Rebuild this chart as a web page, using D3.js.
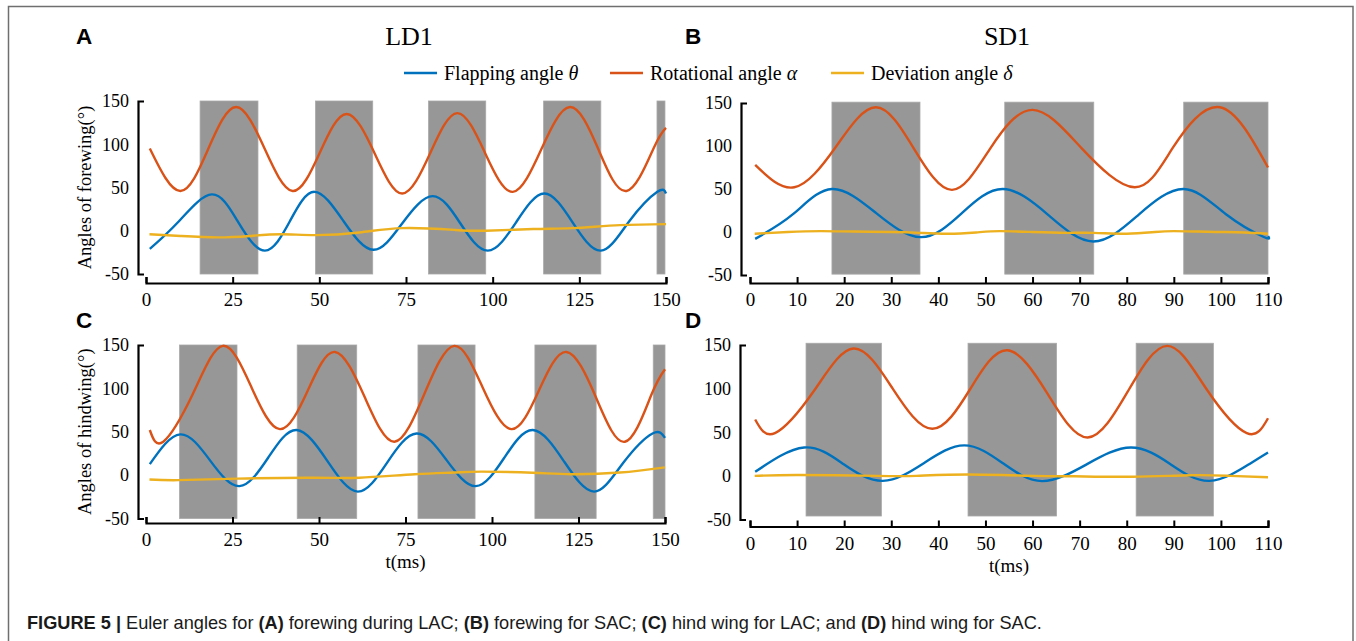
<!DOCTYPE html>
<html>
<head>
<meta charset="utf-8">
<script src="https://cdn.jsdelivr.net/npm/d3@7"></script>
<style>
  html, body { margin: 0; padding: 0; background: #fff; }
  svg { display: block; }
</style>
</head>
<body>
<svg id="fig" width="1356" height="641"></svg>
<script>
// Euler angles of the wings: flapping (theta), rotational (alpha), deviation (delta), in degrees vs time (ms)
// Each series is a list of [t, angle] samples.

// ---- A: forewing, LD1 ----
const strokesA = [[15.6, 32.3], [48.9, 65.4], [81.5, 98.0], [114.7, 131.2], [147.4, 149.7]];
const flapA = [[1.1,-21],[9.5,11],[19,42],[26.6,10],[34.3,-23],[41.5,11],[48.6,45],[57,11],[65.6,-22],[74,9],[82.7,40],[90.6,9],[98.6,-23],[106.8,10],[114.9,43],[123,10],[131.2,-23],[139.4,11],[147.5,45],[150,43]];
const rotA = [[1.1,95],[9.9,46],[18,95],[26,143],[34.2,95],[42.3,46],[50.1,90],[57.9,135],[66,89],[73.9,43],[81.9,89],[89.8,136],[97.8,90],[105.8,45],[114,94],[122.3,143],[130.4,95],[138.6,46],[146.5,96],[150,119]];
const devA = [[1,-4],[10,-6],[20.7,-7.7],[30,-6],[39,-4],[49,-5],[61.6,-2],[74,3],[89,1],[98,0],[111.7,2],[123,3],[136.7,6.5],[150,7.7]];

// ---- B: forewing, SD1 ----
const strokesB = [[17.4, 36.1], [54.1, 73.0], [92.1, 110]];
const flapB = [[1.1,-8],[9.2,21],[17.4,50],[26.8,22],[36.3,-6],[45,22],[53.7,50],[63.3,20],[72.9,-11],[82.5,20],[92.1,50],[101,21],[109,-5.5],[110,-5]];
const rotB = [[1.1,78],[9.4,52],[18.1,98],[26.7,145],[34.8,97],[42.9,49],[51,97],[60,142],[70.5,97],[81.7,52],[89.8,98],[99.8,145],[110,75]];
const devB = [[1,-2],[8,0],[15,1],[22,0.5],[30,0],[36,-1],[42,-2],[48,-0.5],[53,1],[60,0],[67,-1],[73,-1],[80,-2],[86,0],[90,1],[95,0.5],[100,0],[105,-0.5],[110,-2]];

// ---- C: hindwing, LD1 ----
const strokesC = [[9.7, 26.3], [43.7, 60.9], [78.6, 95.1], [112.4, 130.1], [146.6, 150]];
const flapC = [[1.1,12.7],[9.9,47],[18.5,17],[27,-12.7],[35.3,20],[43.5,52],[52.4,16.5],[61.2,-19],[69.7,14.5],[78.2,48],[86.8,17.7],[95.3,-12.7],[103.5,19.7],[111.8,52],[120.7,16.5],[129.5,-19],[138,14.5],[146.4,48],[150,43]];
const rotC = [[1.1,52],[5,38.5],[13.6,94],[22.2,149],[30.5,101],[38.7,53],[46.7,97],[54.6,142],[63.2,90],[71.8,38.5],[80.5,94],[89.1,149],[97.3,101],[105.6,53],[113.5,97],[121.5,142],[130,90],[138.4,38.5],[146,92],[150,122]];
const devC = [[1,-5],[9.3,-5.8],[26.4,-4],[49,-3],[61.7,-3],[77.7,1],[89,3],[97,4],[111.8,2.7],[123,1],[137,3],[150,9]];

// ---- D: hindwing, SD1 ----
const strokesD = [[11.9, 27.9], [46.3, 65.1], [82.0, 98.4]];
const flapD = [[1.1,4.6],[11.5,32.5],[19.9,13.4],[28.2,-5.7],[36.9,14.6],[45.5,35],[53.7,14.5],[62,-6],[71.5,13.2],[80.9,32.5],[89.3,13.4],[97.6,-5.7],[106,13.4],[110,26.8]];
const rotD = [[1.1,64.6],[5.3,49],[13.6,97.5],[22,146],[30.3,100],[38.7,54],[46.7,99],[54.6,144],[63.2,94],[71.7,44],[80.2,96.5],[88.6,149],[97,99],[105.5,49],[110,66]];
const devD = [[1,0],[10.3,1],[27,0],[35.3,0],[46.2,1.5],[60.4,0],[68.8,-0.5],[81.3,-1],[93.8,0.8],[102,0],[110,-1.5]];

// shaded band vertical extent per panel [low, high]
const bandA = [-50, 150], bandB = [-49, 151], bandC = [-50, 150], bandD = [-46, 152];

// axis ticks
const yTicks = [-50, 0, 50, 100, 150];
const xTicksLD = [0, 25, 50, 75, 100, 125, 150];
const xTicksSD = [0, 10, 20, 30, 40, 50, 60, 70, 80, 90, 100, 110];

// legend
const seriesNames = ["Flapping angle ", "Rotational angle ", "Deviation angle "];
const seriesSymbols = ["θ", "α", "δ"];
const seriesColors = ["#0072BD", "#D95319", "#EDB120"];

const serif = "'Liberation Serif', 'Times New Roman', serif";
const sans = "'Liberation Sans', Arial, Helvetica, sans-serif";
const plainNumber = d => String(d);   // keeps an ASCII hyphen for negatives

const svg = d3.select("#fig");

// outer frame
svg.append("rect")
  .attr("x", 8.5).attr("y", 6.5).attr("width", 1344.5).attr("height", 700)
  .attr("fill", "none").attr("stroke", "#6f6f6f").attr("stroke-width", 1.5);

const panels = [
  { key: "A", strokes: strokesA, band: bandA, series: [flapA, rotA, devA], tMax: 150, xTicks: xTicksLD,
    xr: [146, 666], yr: [274, 101], axisY: 283, axisX: 138, label: "Angles of forewing(°)", xlabel: false },
  { key: "B", strokes: strokesB, band: bandB, series: [flapB, rotB, devB], tMax: 110, xTicks: xTicksSD,
    xr: [750, 1268], yr: [275, 103], axisY: 283, axisX: 741, label: null, xlabel: false },
  { key: "C", strokes: strokesC, band: bandC, series: [flapC, rotC, devC], tMax: 150, xTicks: xTicksLD,
    xr: [146, 665], yr: [518.5, 345], axisY: 523, axisX: 138, label: "Angles of hindwing(°)", xlabel: true },
  { key: "D", strokes: strokesD, band: bandD, series: [flapD, rotD, devD], tMax: 110, xTicks: xTicksSD,
    xr: [750, 1268], yr: [519.5, 345], axisY: 526.5, axisX: 740, label: null, xlabel: true }
];

panels.forEach(p => {
  const x = d3.scaleLinear().domain([0, p.tMax]).range(p.xr);
  const y = d3.scaleLinear().domain([-50, 150]).range(p.yr);
  const g = svg.append("g");

  // downstroke shading
  g.selectAll("rect.band").data(p.strokes).join("rect")
    .attr("class", "band")
    .attr("x", d => x(d[0]))
    .attr("width", d => x(d[1]) - x(d[0]))
    .attr("y", y(p.band[1]))
    .attr("height", y(p.band[0]) - y(p.band[1]))
    .attr("fill", "#979797")
    .attr("stroke", "#a9a9a9").attr("stroke-width", 0.8);

  // angle curves
  const line = d3.line().x(d => x(d[0])).y(d => y(d[1])).curve(d3.curveNatural);
  p.series.forEach((s, i) => {
    g.append("path").datum(s)
      .attr("d", line)
      .attr("fill", "none")
      .attr("stroke", seriesColors[i])
      .attr("stroke-width", 2.4)
      .attr("stroke-linejoin", "round");
  });

  // y axis: bracket with end ticks pointing inward
  const yAxis = g.append("g")
    .attr("transform", `translate(${p.axisX},0)`)
    .call(d3.axisLeft(y).tickValues(yTicks).tickFormat(plainNumber)
      .tickSizeInner(0).tickSizeOuter(-6).tickPadding(9));
  yAxis.select(".domain").attr("stroke", "#000").attr("stroke-width", 2.2);
  yAxis.selectAll("text").attr("font-family", serif).attr("font-size", 18).attr("fill", "#000");

  // x axis: ticks pointing up
  const xAxis = g.append("g")
    .attr("transform", `translate(0,${p.axisY})`)
    .call(d3.axisBottom(x).tickValues(p.xTicks).tickFormat(plainNumber)
      .tickSizeInner(-6).tickSizeOuter(-6).tickPadding(10));
  xAxis.select(".domain").attr("stroke", "#000").attr("stroke-width", 2.2);
  xAxis.selectAll(".tick line").attr("stroke", "#000").attr("stroke-width", 2);
  xAxis.selectAll("text").attr("font-family", serif).attr("font-size", 19).attr("fill", "#000");

  if (p.label) {
    const cy = (p.yr[0] + p.yr[1]) / 2;
    g.append("text")
      .attr("transform", `translate(91,${cy}) rotate(-90)`)
      .attr("text-anchor", "middle")
      .attr("font-family", serif).attr("font-size", 18.5)
      .text(p.label);
  }
  if (p.xlabel) {
    g.append("text")
      .attr("x", (p.xr[0] + p.xr[1]) / 2)
      .attr("y", p.axisY + 45)
      .attr("text-anchor", "middle")
      .attr("font-family", serif).attr("font-size", 19)
      .text("t(ms)");
  }
});

// panel letters
const letters = [["A", 76, 44], ["B", 685, 44], ["C", 76, 328], ["D", 685, 328]];
svg.selectAll("text.letter").data(letters).join("text")
  .attr("class", "letter")
  .attr("x", d => d[1]).attr("y", d => d[2])
  .attr("font-family", sans).attr("font-weight", "bold").attr("font-size", 22.5)
  .text(d => d[0]);

// column titles
svg.append("text").attr("x", 409).attr("y", 45).attr("text-anchor", "middle")
  .attr("font-family", serif).attr("font-size", 26).text("LD1");
svg.append("text").attr("x", 1007).attr("y", 45).attr("text-anchor", "middle")
  .attr("font-family", serif).attr("font-size", 26).text("SD1");

// legend
const legendX = [404, 610, 831];
seriesNames.forEach((name, i) => {
  const lx = legendX[i];
  svg.append("line")
    .attr("x1", lx).attr("x2", lx + 33).attr("y1", 73).attr("y2", 73)
    .attr("stroke", seriesColors[i]).attr("stroke-width", 2.6);
  const t = svg.append("text").attr("x", lx + 40).attr("y", 79.5)
    .attr("font-family", serif).attr("font-size", 20);
  t.append("tspan").text(name);
  t.append("tspan").attr("font-style", "italic").text(seriesSymbols[i]);
});

// caption
const cap = svg.append("text").attr("x", 27).attr("y", 628.5)
  .attr("font-family", sans).attr("font-size", 18.2).attr("fill", "#1a1a1a");
const capParts = [
  ["FIGURE 5 | ", true], ["Euler angles for ", false], ["(A)", true], [" forewing during LAC; ", false],
  ["(B)", true], [" forewing for SAC; ", false], ["(C)", true], [" hind wing for LAC; and ", false],
  ["(D)", true], [" hind wing for SAC.", false]
];
capParts.forEach(([s, b]) => {
  cap.append("tspan").attr("font-weight", b ? "bold" : "normal").text(s);
});
</script>
</body>
</html>
